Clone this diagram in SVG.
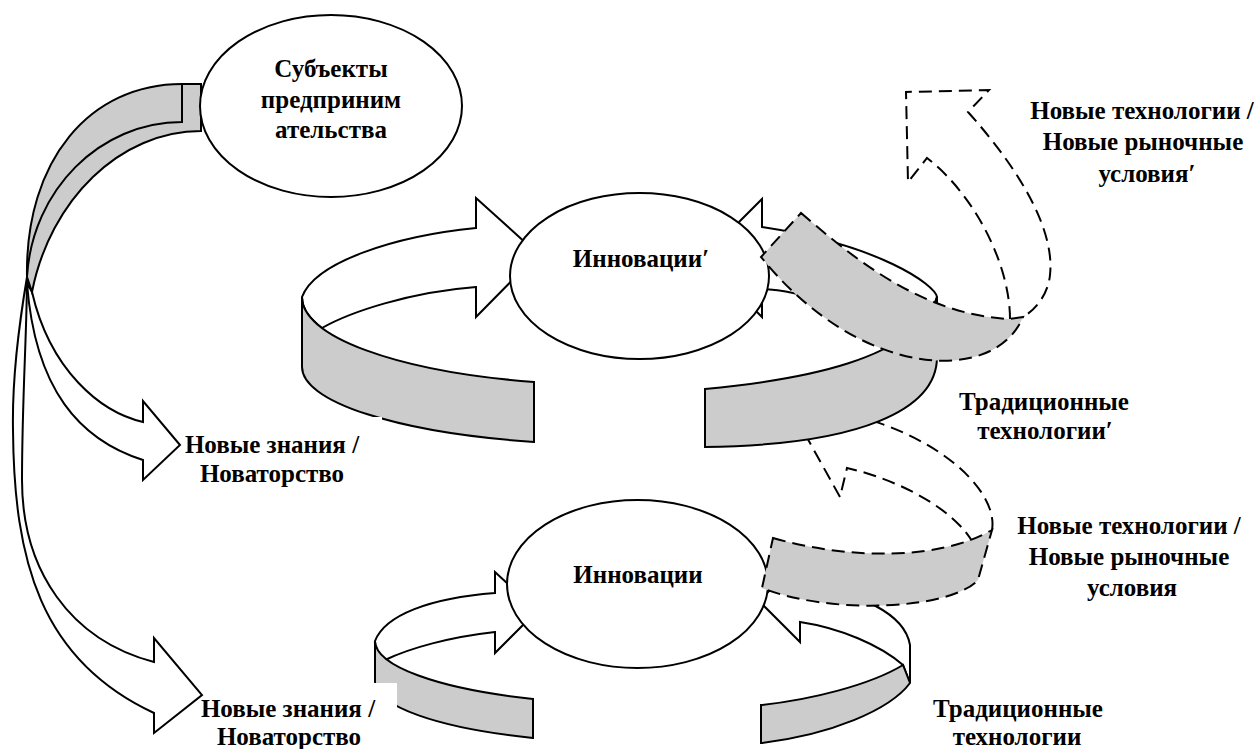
<svg xmlns="http://www.w3.org/2000/svg" width="1259" height="749" viewBox="0 0 1259 749">
<style>
.g{fill:#cccccc;stroke:#000;stroke-width:2;stroke-linejoin:miter}
.w{fill:#fff;stroke:#000;stroke-width:2;stroke-linejoin:miter}
.n{fill:none;stroke:#000;stroke-width:2}
.d{stroke-dasharray:13 7}
.e{fill:#fff;stroke:#000;stroke-width:2}
</style>
<rect width="1259" height="749" fill="#fff"/>
<defs>
<path id="lowArrow" d="M27,277 C18,330 12,380 13,430 C14,560 40,660 154,713 L154,733 L202,695 L154,638 L154,662 C70,640 22,570 22,480 C22,400 27,330 27,277 Z"/>
</defs>
<g id="connectors">
<g id="flow-knowledge">
<path class="w" d="M27,283 C35,390 80,440 143,460 L143,480 L180,445 L143,401 L143,422 C100,412 50,370 32,292 Z"/>
<use href="#lowArrow" fill="#fff" stroke="none"/>
<path fill="#cccccc" d="M27,277 C21,315 17,340 15,362 C19,340 24,310 27,277 Z"/>
<use href="#lowArrow" class="n"/>
<path class="g" d="M182,84 L201,84 L201,131 C120,131 50,200 32,292 L27,277 C25,160 90,84 182,84 Z"/>
<path class="n" d="M182,84 L182,122 C100,122 32,190 27,277"/>
</g>
<g id="flow-new-tech-lower-dashed">
<path class="n d" d="M973,543 C955,510 900,480 847,468 L840,497 L800,425 M992,530 C998,495 950,445 870,420"/>
</g>
</g>
<g id="node-subjects" font-family="Liberation Serif" font-weight="bold" font-size="25" text-anchor="middle">
<ellipse class="e" cx="331" cy="106" rx="131" ry="91"/>
<text x="331" y="77">Субъекты</text>
<text x="331" y="108">предприним</text>
<text x="331" y="138">ательства</text>
</g>
<g id="ring-upper">
<path class="w" d="M302,297 C315,262 395,236 476,228 L476,198 L538,254 L476,317 L476,287 C410,292 350,312 322,328 A317.5 88 0 0 1 302,297 Z"/>
<path class="w" d="M762,199 L762,227 C880,245 935,285 937,297 C932,318 918,334 905,343 C860,310 800,290 762,289 L762,317 L703,258 Z"/>
</g>
<g id="node-innov-upper" font-family="Liberation Serif" font-weight="bold" font-size="25" text-anchor="middle">
<ellipse class="e" cx="639.5" cy="276" rx="129.5" ry="83"/>
<text x="641" y="267">Инновации′</text>
</g>
<g id="ring-upper-front">
<path class="g" d="M302,297 L302,367 A317.5 78 0 0 0 534,442 L534,382 A317.5 88 0 0 1 302,297 Z"/>
<path class="g" d="M705,389 C800,380 915,360 937,297 L937,357 C937,410 860,445 705,447 Z"/>
</g>
<g id="flow-new-tech-upper">
<path class="n d" d="M1010,319 C1010,265 975,195 927,158 L908,182 L906,92 L989,90 L968,112 C1020,170 1055,230 1050,275 C1048,295 1035,310 1023,317"/>
<path class="g d" d="M801,213 C850,255 920,315 1010,319 L1023,317 C995,385 860,380 761,257 Z"/>
</g>
<g id="ring-lower">
<path class="w" d="M375,641 C385,615 430,598 495,593 L495,572 L537,611 L495,653 L495,632 C450,637 410,648 385,660 A267.5 64 0 0 1 375,641 Z"/>
<path class="w" d="M800,588 L800,560 L759,601 L800,642 L800,622 C840,628 880,645 903,665 L910,683 L910,645 C905,615 860,590 800,588 Z"/>
</g>
<g id="node-innov-lower" font-family="Liberation Serif" font-weight="bold" font-size="25" text-anchor="middle">
<ellipse class="e" cx="637.5" cy="584" rx="130.5" ry="84"/>
<text x="638" y="583">Инновации</text>
</g>
<g id="ring-lower-front">
<path class="g" d="M375,641 L375,682 A267.5 62 0 0 0 533,738 L533,699 A267.5 64 0 0 1 375,641 Z"/>
<path class="g" d="M761,705 C810,700 870,685 903,665 L910,683 C890,710 830,735 761,743 Z"/>
</g>
<g id="flow-new-tech-lower-band">
<path class="g d" d="M773,538 C850,560 940,560 992,530 L978,580 C950,610 830,615 762,588 Z"/>
</g>
<g id="label-knowledge-1" font-family="Liberation Serif" font-weight="bold" font-size="25" text-anchor="middle">
<rect x="250" y="417" width="132" height="75" fill="#fff"/>
<text x="272" y="453">Новые знания /</text>
<text x="272" y="482">Новаторство</text>
</g>
<g id="label-knowledge-2" font-family="Liberation Serif" font-weight="bold" font-size="25" text-anchor="middle">
<rect x="300" y="683" width="97" height="66" fill="#fff"/>
<text x="288" y="717">Новые знания /</text>
<text x="289" y="745">Новаторство</text>
</g>
<g id="label-newtech-1" font-family="Liberation Serif" font-weight="bold" font-size="25" text-anchor="middle">
<text x="1142" y="119">Новые технологии /</text>
<text x="1143" y="150">Новые рыночные</text>
<text x="1147" y="182">условия′</text>
</g>
<g id="label-trad-1" font-family="Liberation Serif" font-weight="bold" font-size="25" text-anchor="middle">
<text x="1044" y="410">Традиционные</text>
<text x="1045" y="439">технологии′</text>
</g>
<g id="label-newtech-2" font-family="Liberation Serif" font-weight="bold" font-size="25" text-anchor="middle">
<text x="1129" y="534">Новые технологии /</text>
<text x="1129" y="565">Новые рыночные</text>
<text x="1132" y="596">условия</text>
</g>
<g id="label-trad-2" font-family="Liberation Serif" font-weight="bold" font-size="25" text-anchor="middle">
<text x="1018" y="717">Традиционные</text>
<text x="1017" y="745">технологии</text>
</g>
</svg>
